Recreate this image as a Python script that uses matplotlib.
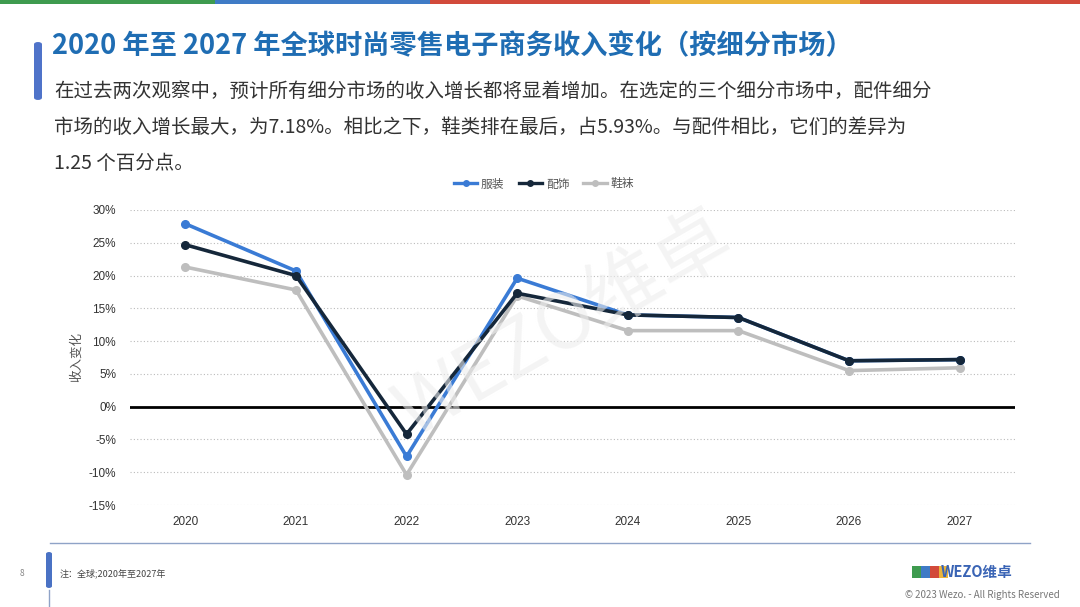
import matplotlib
matplotlib.use('Agg')
import matplotlib.pyplot as plt
from matplotlib.patches import FancyBboxPatch, Rectangle
from matplotlib.lines import Line2D

plt.rcParams['font.family'] = ['Noto Sans CJK SC', 'DejaVu Sans']

# ── Data ──────────────────────────────────────────────────────────────────
years = ['2020', '2021', '2022', '2023', '2024', '2025', '2026', '2027']
apparel = [27.9, 20.7, -7.6, 19.6, 14.0, 13.6, 7.0, 7.18]
accessories = [24.7, 20.0, -4.2, 17.3, 14.0, 13.6, 7.0, 7.18]
footwear = [21.3, 17.8, -10.4, 16.9, 11.6, 11.6, 5.5, 5.93]
series_names = ['服装', '配饰', '鞋袜']
series_colors = ['#3A7BD5', '#15273A', '#BEBEBE']
yticks = [-15, -10, -5, 0, 5, 10, 15, 20, 25, 30]

W, H = 1080, 607
fig = plt.figure(figsize=(W / 100, H / 100), dpi=100, facecolor='white')

def px(x, y):
    return x / W, 1 - y / H

# ── Top colour strip ──────────────────────────────────────────────────────
strip = [(0, 215, '#3E9B4F'), (215, 430, '#3F7BC6'), (430, 650, '#D24A3B'),
         (650, 860, '#EBB43A'), (860, 1080, '#D24A3B')]
for x0, x1, c in strip:
    fig.patches.append(Rectangle(px(x0, 4), (x1 - x0) / W, 4 / H,
                                 transform=fig.transFigure, color=c, lw=0))

# ── Title + subtitle ──────────────────────────────────────────────────────
fig.patches.append(FancyBboxPatch(px(34, 100), 8 / W, 58 / H,
                                  boxstyle='round,pad=0,rounding_size=0.004',
                                  transform=fig.transFigure, color='#4F73C9', lw=0))
fig.text(*px(52, 46), '2020 年至 2027 年全球时尚零售电子商务收入变化（按细分市场）',
         fontsize=19.6, fontweight='bold', color='#1F6DB3', va='center', ha='left')
sub = ['在过去两次观察中，预计所有细分市场的收入增长都将显着增加。在选定的三个细分市场中，配件细分',
       '市场的收入增长最大，为7.18%。相比之下，鞋类排在最后，占5.93%。与配件相比，它们的差异为',
       '1.25 个百分点。']
for i, line in enumerate(sub):
    fig.text(*px(54, 91 + i * 36), line, fontsize=14, color='#333333',
             va='center', ha='left')

# ── Chart ────────────────────────────────────────────────────────────────
ax = fig.add_axes([130 / W, 1 - 505 / H, (1015 - 130) / W, (505 - 210) / H])
x = range(len(years))
# draw order: footwear, apparel, accessories on top
for vals, c in [(footwear, series_colors[2]), (apparel, series_colors[0]),
                (accessories, series_colors[1])]:
    ax.plot(x, vals, color=c, lw=2.6, marker='o', ms=5.5, zorder=3)

ax.set_xlim(-0.5, len(years) - 0.5)
ax.set_ylim(-15, 30)
ax.set_yticks(yticks)
ax.set_yticklabels([f'{v}%' for v in yticks], fontsize=8.5, color='#333333',
                   family=['Liberation Sans', 'DejaVu Sans'])
ax.set_xticks(list(x))
ax.set_xticklabels(years, fontsize=8.5, color='#333333',
                   family=['Liberation Sans', 'DejaVu Sans'])
ax.tick_params(length=0, pad=10)
ax.tick_params(axis='x', pad=8)
ax.grid(axis='y', ls=(0, (1, 2)), color='#BBBBBB', lw=0.8)
ax.axhline(0, color='black', lw=2, zorder=2)
for s in ax.spines.values():
    s.set_visible(False)
ax.set_ylabel('收入变化', fontsize=9, color='#555555', labelpad=4)

handles = [Line2D([], [], color=c, lw=2.4, marker='o', ms=4) for c in series_colors]
fig.legend(handles, series_names, loc='center', bbox_to_anchor=px(544, 184),
           ncol=3, frameon=False, fontsize=8.5, handlelength=2.0,
           handletextpad=0.3, columnspacing=1.2, labelcolor='#555555')

# watermark
fig.text(*px(565, 325), 'WEZO维卓', fontsize=56, color='#EDEDED', rotation=30,
         ha='center', va='center', alpha=0.6, zorder=0)

# ── Footer ────────────────────────────────────────────────────────────────
fig.lines.append(Line2D([50 / W, 1030 / W], [1 - 543 / H] * 2,
                        transform=fig.transFigure, color='#8FA3C7', lw=1))
fig.lines.append(Line2D([49 / W, 49 / W], [1 - 590 / H, 0],
                        transform=fig.transFigure, color='#8FA3C7', lw=1))
fig.patches.append(FancyBboxPatch(px(46, 588), 6 / W, 36 / H,
                                  boxstyle='round,pad=0,rounding_size=0.003',
                                  transform=fig.transFigure, color='#4A72C4', lw=0))
fig.text(*px(20, 573), '8', fontsize=6, color='#888888', va='center')
fig.text(*px(60, 573), '注：全球;2020年至2027年', fontsize=6.5, color='#444444', va='center')
fig.text(*px(1012, 572), 'WEZO维卓', fontsize=10.5, fontweight='bold', color='#3A64B5',
         va='center', ha='right')
for dx, c in [(0, '#3E9B4F'), (9, '#3F7BC6'), (18, '#D24A3B'), (27, '#EBB43A')]:
    fig.patches.append(Rectangle(px(912 + dx, 578), 9 / W, 12 / H,
                                 transform=fig.transFigure, color=c, lw=0))
fig.text(*px(1060, 595), '© 2023 Wezo. - All Rights Reserved', fontsize=7,
         color='#777777', va='center', ha='right')

fig.savefig('out.png', dpi=100, facecolor='white')
plt.close()
